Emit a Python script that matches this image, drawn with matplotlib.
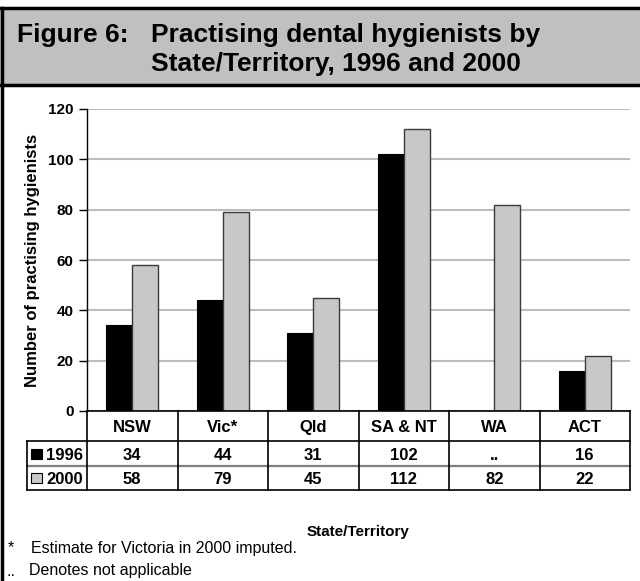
import matplotlib.pyplot as plt
import matplotlib.patches as mpatches
from matplotlib.transforms import blended_transform_factory

plt.rcParams['font.family'] = ['Liberation Sans', 'DejaVu Sans']

# practising dental hygienists by state/territory
states = ['NSW', 'Vic*', 'Qld', 'SA & NT', 'WA', 'ACT']
years = ['1996', '2000']
counts_1996 = [34, 44, 31, 102, None, 16]
counts_2000 = [58, 79, 45, 112, 82, 22]
yticks = [0, 20, 40, 60, 80, 100, 120]

W, H = 640, 581
fig = plt.figure(figsize=(W / 100, H / 100), dpi=100)


def fx(px):
    return px / W


def fy(py):
    return 1 - py / H


# axes placed in pixel terms
left, right, top, bottom = 87, 630, 109, 411
ax = fig.add_axes([fx(left), fy(bottom), fx(right - left), (bottom - top) / H])

x = list(range(len(states)))
bw = 0.29
h96 = [v if v is not None else 0 for v in counts_1996]
ax.bar([i - bw / 2 for i in x], h96, width=bw, color='black', edgecolor='black', lw=0.8, zorder=3)
ax.bar([i + bw / 2 for i in x], counts_2000, width=bw, color='#C8C8C8', edgecolor='#3A3A3A', lw=1.0, zorder=3)

ax.set_xlim(-0.5, len(states) - 0.5)
ax.set_ylim(0, 120)
ax.set_yticks(yticks)
ax.set_yticklabels([str(t) for t in yticks], fontsize=11, fontweight='bold')
ax.set_xticks([])
ax.tick_params(axis='y', length=6, width=1, color='black', pad=3.5)
ax.grid(axis='y', color='#BDBDBD', lw=1.5, zorder=0)
ax.set_axisbelow(True)
for s in ['top', 'right', 'bottom']:
    ax.spines[s].set_visible(False)
ax.spines['left'].set_color('black')
ax.spines['left'].set_linewidth(1)
ax.set_ylabel('Number of practising hygienists', fontsize=12, fontweight='bold', labelpad=6)

# data table under the axes
tr = blended_transform_factory(ax.transData, fig.transFigure)
row_y = [411, 441, 466, 490]
tab_left_px = 27
lc = 'black'
tsize = 12

# horizontal rules
fig.add_artist(plt.Line2D([fx(left), fx(right)], [fy(row_y[0])] * 2, color=lc, lw=1.2))
fig.add_artist(plt.Line2D([fx(tab_left_px), fx(right)], [fy(row_y[1])] * 2, color=lc, lw=1.2))
fig.add_artist(plt.Line2D([fx(tab_left_px), fx(right)], [fy(row_y[2])] * 2, color='#808080', lw=1.6))
fig.add_artist(plt.Line2D([fx(tab_left_px), fx(right)], [fy(row_y[3])] * 2, color=lc, lw=1.2))
# vertical rules
fig.add_artist(plt.Line2D([fx(tab_left_px)] * 2, [fy(row_y[1]), fy(row_y[3])], color=lc, lw=1.2))
for b in range(len(states) + 1):
    fig.add_artist(plt.Line2D([b - 0.5] * 2, [fy(row_y[0]), fy(row_y[3])], color=lc, lw=1.2,
                              transform=tr))

for i, name in enumerate(states):
    ymid = fy((row_y[0] + row_y[1]) / 2)
    fig.text(i, ymid, name, transform=tr, ha='center', va='center_baseline', fontsize=tsize,
             fontweight='bold')
    v96 = counts_1996[i]
    fig.text(i, fy((row_y[1] + row_y[2]) / 2), '..' if v96 is None else str(v96), transform=tr,
             ha='center', va='center_baseline', fontsize=tsize, fontweight='bold')
    fig.text(i, fy((row_y[2] + row_y[3]) / 2), str(counts_2000[i]), transform=tr,
             ha='center', va='center_baseline', fontsize=tsize, fontweight='bold')

# legend keys in the row-label column
key_colors = ['black', '#C8C8C8']
for r, (yr, kc) in enumerate(zip(years, key_colors)):
    ymid = (row_y[1 + r] + row_y[2 + r]) / 2
    fig.add_artist(mpatches.Rectangle((fx(31), fy(ymid + 5)), fx(11), 10 / H, facecolor=kc,
                                      edgecolor='black', lw=0.8))
    fig.text(fx(46), fy(ymid), yr, ha='left', va='center_baseline', fontsize=tsize, fontweight='bold')

fig.text(fx((left + right) / 2), fy(532), 'State/Territory', ha='center', va='center',
         fontsize=11, fontweight='bold')

# footnotes
fig.text(fx(8), fy(548), '*', ha='left', va='center', fontsize=11.5)
fig.text(fx(31), fy(548), 'Estimate for Victoria in 2000 imputed.', ha='left', va='center', fontsize=11.5)
fig.text(fx(7), fy(571), '..', ha='left', va='center', fontsize=11.5)
fig.text(fx(29), fy(571), 'Denotes not applicable', ha='left', va='center', fontsize=11.5)

# title panel
fig.add_artist(mpatches.Rectangle((0, fy(85)), 1, (85 - 8) / H, facecolor='#C0C0C0',
                                  edgecolor='none'))
fig.add_artist(plt.Line2D([0, 1], [fy(8)] * 2, color='black', lw=2.5))
fig.add_artist(plt.Line2D([0, 1], [fy(85)] * 2, color='black', lw=2.5))
fig.add_artist(plt.Line2D([fx(1.5)] * 2, [0, fy(8)], color='black', lw=2.5))
fig.text(fx(17), fy(42), 'Figure 6:', ha='left', va='baseline', fontsize=19, fontweight='bold')
fig.text(fx(151), fy(42), 'Practising dental hygienists by', ha='left', va='baseline',
         fontsize=19, fontweight='bold')
fig.text(fx(151), fy(71), 'State/Territory, 1996 and 2000', ha='left', va='baseline',
         fontsize=19, fontweight='bold')

fig.savefig('out.png', dpi=100)
